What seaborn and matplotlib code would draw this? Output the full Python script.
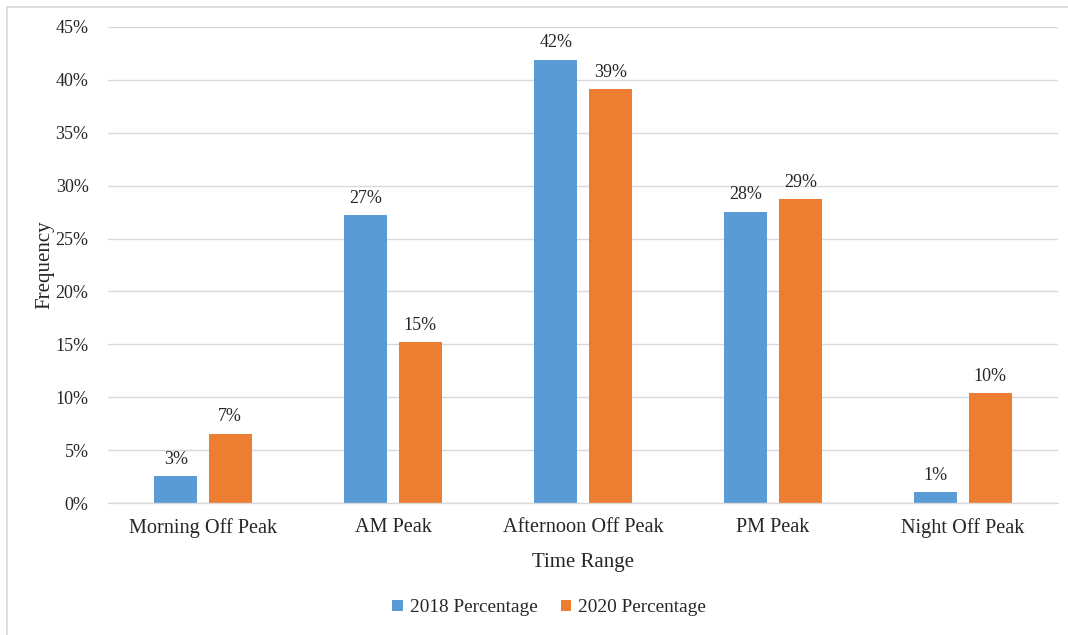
import matplotlib
matplotlib.use("Agg")
import matplotlib.pyplot as plt
from matplotlib.patches import Rectangle
from matplotlib.ticker import FuncFormatter, MultipleLocator
import seaborn as sns
import pandas as pd

# Share of trips by time range, in percent
time_ranges = ["Morning Off Peak", "AM Peak", "Afternoon Off Peak", "PM Peak", "Night Off Peak"]
pct_2018 = [2.55, 27.2, 41.9, 27.55, 1.0]
pct_2020 = [6.55, 15.2, 39.1, 28.7, 10.4]
series_names = ["2018 Percentage", "2020 Percentage"]
colors = ["#5B9BD5", "#ED7D31"]

df = pd.DataFrame({
    "Time Range": time_ranges * 2,
    "Frequency": pct_2018 + pct_2020,
    "Series": [series_names[0]] * len(time_ranges) + [series_names[1]] * len(time_ranges),
})

sns.set_theme(style="white")
plt.rcParams["font.family"] = ["Liberation Serif", "DejaVu Serif"]
text_color = "#262626"
fs_tick = 13
fs_cat = 14.6
fs_title = 15
fs_legend = 13.9

W, H = 1068, 635
fig = plt.figure(figsize=(W / 100, H / 100), dpi=100)
ax = fig.add_axes([108 / W, 1 - 503 / H, (1058 - 108) / W, (503 - 27) / H])

sns.barplot(
    data=df, x="Time Range", y="Frequency", hue="Series",
    palette=colors, width=0.574, gap=0.21, ax=ax,
    linewidth=0, saturation=1, legend=True,
)

for cont in ax.containers:
    ax.bar_label(cont, fmt=lambda v: f"{v:.0f}%", padding=6,
                 fontsize=fs_tick, color=text_color)

ax.set_ylim(0, 45)
ax.yaxis.set_major_locator(MultipleLocator(5))
ax.yaxis.set_major_formatter(FuncFormatter(lambda v, _: f"{v:.0f}%"))
ax.grid(axis="y", color="#D9D9D9", linewidth=1)
ax.set_axisbelow(True)
for side in ["top", "right", "left"]:
    ax.spines[side].set_visible(False)
ax.spines["bottom"].set_color("#D9D9D9")
ax.spines["bottom"].set_linewidth(1)
ax.tick_params(axis="both", length=0, colors=text_color)
ax.tick_params(axis="y", pad=14, labelsize=fs_tick)
ax.tick_params(axis="x", pad=11, labelsize=fs_cat)
ax.set_xlim(-0.5, len(time_ranges) - 0.5)

ax.set_xlabel("Time Range", fontsize=fs_title, color=text_color, labelpad=11)
ax.set_ylabel("Frequency", fontsize=fs_title, color=text_color, labelpad=1)

ax.legend_.remove()
handles, labels = ax.get_legend_handles_labels()
fig.legend(handles, labels, loc="center", bbox_to_anchor=(549 / W, 1 - 608 / H),
           ncol=2, frameon=False, fontsize=fs_legend, handlelength=0.55, handleheight=0.55,
           handletextpad=0.35, columnspacing=1.2, labelcolor=text_color)

# Chart-area frame
fig.add_artist(Rectangle((7 / W, -0.1), 1.2, 1 - 7 / H + 0.1,
                         transform=fig.transFigure, fill=False,
                         edgecolor="#D9D9D9", linewidth=1.2))

fig.savefig("out.png", dpi=100, facecolor="white")
